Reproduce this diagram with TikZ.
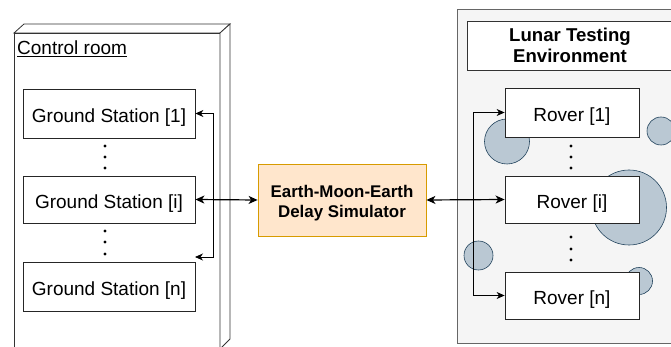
\documentclass[tikz,border=0pt]{standalone}
\usepackage{fontspec}
\setmainfont{Liberation Sans}
\usetikzlibrary{arrows.meta}

\definecolor{envfill}{HTML}{F5F5F5}
\definecolor{envline}{HTML}{666666}
\definecolor{simfill}{HTML}{FFE6CC}
\definecolor{simline}{HTML}{D79B00}
\definecolor{craterfill}{HTML}{BAC8D3}
\definecolor{craterline}{HTML}{23445D}

\tikzset{
  unitbox/.style={draw=black!85, fill=white, line width=0.8pt, inner sep=0pt,
    align=center, font=\fontsize{19}{22}\selectfont,
    text height=20pt, text depth=2pt},
  gsbox/.style={unitbox, minimum width=172pt},
  roverbox/.style={unitbox, minimum width=134pt},
  crater/.style={fill=craterfill, draw=craterline, line width=0.6pt},
  link/.style={line width=0.8pt, {Stealth[length=8pt,width=7pt,inset=2.5pt]}-{Stealth[length=8pt,width=7pt,inset=2.5pt]}},
  mainlink/.style={line width=1.2pt, {Stealth[length=9pt,width=8pt,inset=2.5pt]}-{Stealth[length=9pt,width=8pt,inset=2.5pt]}},
  dotmark/.style={fill=black},
}

\begin{document}
\begin{tikzpicture}[x=1pt, y=-1pt]
\useasboundingbox (0,0) rectangle (671,347);

% control room block (front, top and side faces)
\begin{scope}[draw=black!80, line width=0.8pt, fill=white]
  \filldraw (14,33) rectangle (220,349);
  \filldraw (14,33) -- (24,24) -- (230,24) -- (220,33) -- cycle;
  \filldraw (220,33) -- (230,24) -- (230,339) -- (220,349) -- cycle;
\end{scope}
\node[anchor=west, inner sep=0pt, font=\fontsize{19}{22}\selectfont] (roomlabel) at (17,49) {\underline{Control room}};

% ground stations
\node[gsbox, minimum height=49pt] (gs1) at (109,113.5) {Ground Station [1]};
\node[gsbox, minimum height=47pt] (gsi) at (109,199.5) {Ground Station [i]};
\node[gsbox, minimum height=49pt] (gsn) at (109,286.5) {Ground Station [n]};
\foreach \yy in {146,157,168,231,242,254} \fill[dotmark] (105,\yy) circle (1.6pt);

% lunar testing environment
\filldraw[fill=envfill, draw=envline, line width=0.8pt] (457,9) rectangle (685,343);
\node[draw=black!80, fill=white, line width=0.8pt, minimum width=206pt, minimum height=49pt,
  inner sep=0pt, align=center, font=\bfseries\fontsize{18.6}{21.7}\selectfont]
  (title) at (570,45.5) {Lunar Testing\\Environment};

% craters
\path[crater] (507,141.5) circle (22.5pt);
\path[crater] (661,131) circle (14pt);
\path[crater] (629,207.5) circle (37.5pt);
\path[crater] (478.5,255.5) circle (14.5pt);
\path[crater] (639,281) circle (13.5pt);

% rovers
\node[roverbox, minimum height=49pt] (r1) at (572,112.5) {Rover [1]};
\node[roverbox, minimum height=47pt] (ri) at (572,199.5) {Rover [i]};
\node[roverbox, minimum height=47pt] (rn) at (572,295.5) {Rover [n]};
\foreach \yy in {146,157,168,237,249,260} \fill[dotmark] (571,\yy) circle (1.6pt);

% delay simulator box and its caption
\node[draw=simline, fill=simfill, line width=0.8pt, minimum width=168pt, minimum height=72pt,
  inner sep=0pt] (sim) at (342,200) {};
\node[inner sep=0pt, align=center, font=\bfseries\fontsize{16.9}{20.5}\selectfont]
  (simlabel) at (342,203) {Earth-Moon-Earth\\Delay Simulator};

% fan-out on the ground side
\coordinate (gsbend) at (213,257);
\coordinate (gsend) at (195,257);
\draw[link] (gs1.east) -| (gsbend) -- (gsend);

% fan-out on the rover side
\coordinate (rbend) at (473,295.5);
\draw[link] (r1.west) -| (rbend) -- (rn.west);

% main links through the simulator
\draw[mainlink] (gsi.east) -- (sim.west);
\draw[mainlink] (sim.east) -- (ri.west);
\end{tikzpicture}
\end{document}
